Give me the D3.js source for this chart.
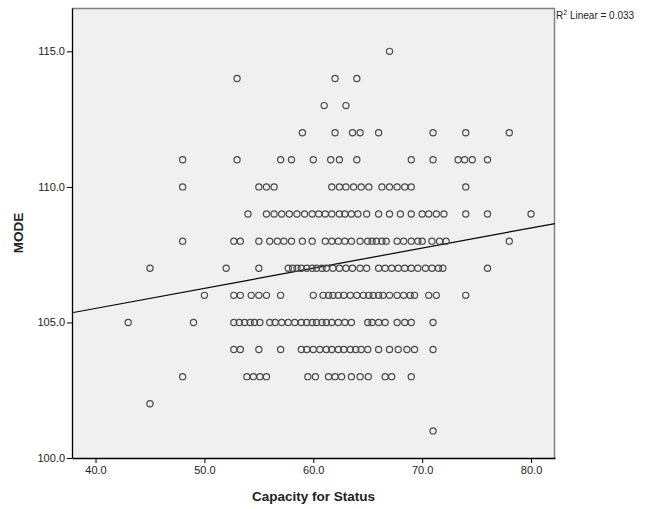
<!DOCTYPE html>
<html><head><meta charset="utf-8">
<script src="https://cdn.jsdelivr.net/npm/d3@7"></script>
<style>
body{margin:0;background:#fff;}
svg{display:block;font-family:"Liberation Sans",Arial,sans-serif;}
</style></head>
<body><svg id="c" width="645" height="509"></svg>
<script>
// MODE level -> Capacity for Status values
const m115 = [67];
const m114 = [53, 62, 64];
const m113 = [61, 63];
const m112 = [59, 62, 63.6, 64.3, 66, 71, 74, 78];
const m111 = [48, 53, 57, 58, 60, 61.6, 62.4, 64, 69, 71, 73.3, 73.9, 74.6, 76];
const m110 = [48, 55, 55.7, 56.4, 61.7, 62.4, 63, 63.7, 64.4, 65.1, 66.3, 67, 67.7, 68.4, 69, 74];
const m109 = [54, 55.7, 56.4, 57.1, 57.8, 58.5, 59.2, 59.9, 60.5, 61.1, 61.7, 62.4, 62.9, 63.5, 64.1, 64.9, 66, 67, 68, 69, 70, 70.6, 71.3, 72, 74, 76, 80];
const m108 = [48, 52.7, 53.3, 55, 56, 56.7, 57.3, 58, 59, 59.9, 61.1, 61.7, 62.3, 62.9, 63.5, 64.3, 65, 65.4, 65.8, 66.3, 66.7, 67.7, 68.3, 69, 69.6, 70, 70.9, 71.6, 72.2, 78];
const m107 = [45, 52, 55, 57.7, 58.1, 58.5, 58.9, 59.4, 59.9, 60.3, 60.8, 61.2, 61.8, 62.4, 63, 63.6, 64.3, 64.9, 66, 66.6, 67.2, 67.8, 68.4, 69, 69.6, 70.3, 70.9, 71.5, 71.9, 76];
const m106 = [50, 52.7, 53.3, 54.3, 55, 55.7, 57, 60, 60.9, 61.4, 61.8, 62.3, 62.8, 63.4, 64, 64.6, 65.1, 65.5, 66, 66.4, 67, 67.7, 68.3, 68.9, 69.3, 70.6, 71.3, 74];
const m105 = [43, 49, 52.7, 53.2, 53.7, 54.2, 54.6, 55.1, 56, 56.5, 57.1, 57.7, 58.3, 58.9, 59.4, 59.9, 60.3, 60.8, 61.2, 61.7, 62.3, 62.9, 63.5, 65, 65.4, 66, 66.6, 67.7, 68.4, 69, 71];
const m104 = [52.7, 53.3, 55, 57, 58.9, 59.4, 60, 60.6, 61.2, 61.7, 62.3, 62.8, 63.4, 63.9, 64.4, 65, 66, 67, 67.8, 68.6, 69.3, 71];
const m103 = [48, 53.9, 54.5, 55.1, 55.7, 59.5, 60.2, 61.4, 62.0, 62.6, 63.5, 64.3, 65.05, 66.6, 67.2, 69];
const m102 = [45];
const m101 = [71];

const modeLevels = [115,114,113,112,111,110,109,108,107,106,105,104,103,102,101];
const capacityRows = [m115,m114,m113,m112,m111,m110,m109,m108,m107,m106,m105,m104,m103,m102,m101];

const xTicks = [40, 50, 60, 70, 80];
const yTicks = [100, 105, 110, 115];
const fitIntercept = 102.55, fitSlope = 0.0742;
const r2Label = "0.033";

const points = [];
modeLevels.forEach((m,i)=>capacityRows[i].forEach(c=>points.push({x:c,y:m})));

const svg = d3.select("#c");
const L=72, R=555, T=8, B=458;
const x = d3.scaleLinear().domain([37.84, 82.2]).range([L, R]);
const y = d3.scaleLinear().domain([100, 116.6]).range([B, T]);

svg.append("rect").attr("x",L).attr("y",T).attr("width",R-L).attr("height",B-T).attr("fill","#f0f0f0");
// top/right frame
svg.append("path").attr("d",`M${L},${T+0.5}H${R-0.5}V${B}`).attr("fill","none").attr("stroke","#808080").attr("stroke-width",1.5);

svg.append("clipPath").attr("id","pc").append("rect").attr("x",L).attr("y",T).attr("width",R-L).attr("height",B-T);

// fit line
svg.append("line").attr("clip-path","url(#pc)")
  .attr("x1",x(37.84)).attr("y1",y(fitIntercept+fitSlope*37.84))
  .attr("x2",x(82.2)).attr("y2",y(fitIntercept+fitSlope*82.2))
  .attr("stroke","#000").attr("stroke-width",1.2);

svg.append("g").selectAll("circle").data(points).join("circle")
  .attr("cx",d=>x(d.x)).attr("cy",d=>y(d.y)).attr("r",3.1)
  .attr("fill","none").attr("stroke","#4a4a4a").attr("stroke-width",1.2);

const xa = svg.append("g").attr("transform",`translate(0,${B})`)
  .call(d3.axisBottom(x).tickValues(xTicks).tickFormat(d3.format(".1f")).tickSize(5).tickSizeOuter(0).tickPadding(3));
const ya = svg.append("g").attr("transform",`translate(${L},0)`)
  .call(d3.axisLeft(y).tickValues(yTicks).tickFormat(d3.format(".1f")).tickSize(5).tickSizeOuter(0).tickPadding(2));
[xa,ya].forEach(a=>{
  a.selectAll("text").attr("font-size",11).attr("fill","#222").attr("font-family","Liberation Sans, Arial, sans-serif");
  a.selectAll("line").attr("stroke","#000");
  a.select(".domain").attr("stroke","#000").attr("stroke-width",1.3);
});

svg.append("text").attr("x",(L+R)/2).attr("y",501).attr("text-anchor","middle")
  .attr("font-size",13.5).attr("font-weight","bold").attr("fill","#222").text("Capacity for Status");
svg.append("text").attr("transform",`translate(23,${(T+B)/2}) rotate(-90)`).attr("text-anchor","middle")
  .attr("font-size",13.5).attr("font-weight","bold").attr("fill","#222").text("MODE");

const r2 = svg.append("text").attr("x",R+1).attr("y",19).attr("font-size",10).attr("fill","#222");
r2.append("tspan").text("R");
r2.append("tspan").attr("dy",-4).attr("font-size",7).text("2");
r2.append("tspan").attr("dy",4).text(" Linear = " + r2Label);
</script></body></html>
